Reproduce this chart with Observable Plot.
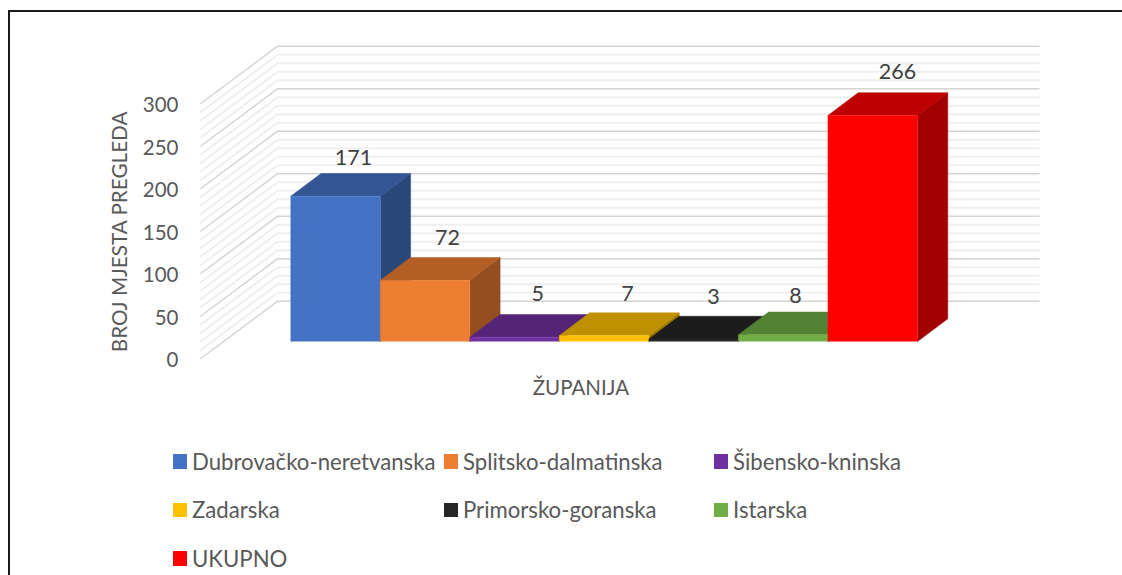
<!DOCTYPE html>
<html><head><meta charset="utf-8">
<script src="https://cdn.jsdelivr.net/npm/d3@7"></script>
<script src="https://cdn.jsdelivr.net/npm/@observablehq/plot@0.6"></script>
<style>
html,body{margin:0;padding:0;background:#fff;width:1122px;height:575px;overflow:hidden;font-family:Lato,"Noto Sans",sans-serif}
#frame{position:absolute;left:8px;top:10px;width:1130px;height:580px;border-left:2px solid #1a1a1a;border-top:2px solid #1a1a1a;box-sizing:border-box;pointer-events:none}
#chart svg{display:block}
#legend{position:absolute;left:173px;top:437px;display:grid;grid-template-columns:271px 270px auto;grid-auto-rows:48.5px;color:#595959;font-size:22.2px}
#legend div{display:flex;align-items:center;white-space:nowrap}
#legend i{display:inline-block;width:14px;height:14.5px;margin-right:5px;flex:none}
</style></head><body>
<div id="chart"></div><div id="legend"></div><div id="frame"></div>
<script>
const categories=["Dubrovačko-neretvanska","Splitsko-dalmatinska","Šibensko-kninska","Zadarska","Primorsko-goranska","Istarska","UKUPNO"];
const values=[171,72,5,7,3,8,266];
const frontColors=["#4472C4","#ED7D31","#7030A0","#FFC000","#262626","#70AD47","#FF0000"];
const topColors=["#335593","#B35E25","#542478","#BF9000","#1C1C1C","#548235","#BF0000"];
const sideColors=["#2A4779","#944E1F","#461E64","#9F7800","#181818","#466D2C","#A00000"];
const yTicks=[0,50,100,150,200,250,300];
const minorTicks=d3.range(0,301,10).filter(v=>v%50!==0);
const labelDx=[18,22.4,23,23.3,19.8,12.2,24.7];
const labelDy=[-38,-42,-43,-41,-41.5,-38.5,-43];

// oblique projection, in data units: depth of a bar and depth of the walls
const barDX=0.338, barDY=26.7;
const wallFrontX=-1.005, wallBackX=-0.147, wallEndX=8.357;
const wallFrontY=-20, wallBackY=47.4;

function face(points,fill){
  return Plot.line(points,{x:"x",y:"y",fill,stroke:fill,strokeWidth:0.5,curve:"linear"});
}
function wallLines(vals,stroke,strokeWidth){
  const pts=vals.flatMap(v=>[
    {v,x:wallFrontX,y:v+wallFrontY},
    {v,x:wallBackX,y:v+wallBackY},
    {v,x:wallEndX,y:v+wallBackY}]);
  return Plot.line(pts,{x:"x",y:"y",z:"v",stroke,strokeWidth,curve:"linear"});
}
const barMarks=values.flatMap((v,i)=>[
  face([{x:i+1,y:0},{x:i+1+barDX,y:barDY},{x:i+1+barDX,y:v+barDY},{x:i+1,y:v}],sideColors[i]),
  face([{x:i,y:v},{x:i+barDX,y:v+barDY},{x:i+1+barDX,y:v+barDY},{x:i+1,y:v}],topColors[i]),
  face([{x:i,y:0},{x:i,y:v},{x:i+1,y:v},{x:i+1,y:0}],frontColors[i])
]);
const labelMarks=values.map((v,i)=>Plot.text([v],{x:[i+0.5],y:[v],text:d=>String(d),dx:labelDx[i],dy:labelDy[i],fontSize:21.5,fill:"#404040"}));

const plot=Plot.plot({
  width:1122,height:437,
  marginLeft:186,marginRight:0,marginTop:0,marginBottom:0,
  x:{domain:[0,7],range:[290.3,917],axis:null},
  y:{domain:[0,300],range:[341,86]},
  style:{fontFamily:"Lato, 'Noto Sans', sans-serif",background:"transparent",color:"#595959"},
  marks:[
    wallLines(minorTicks,"#efefef",2),
    wallLines(yTicks,"#d4d4d4",1.5),
    ...barMarks,
    ...labelMarks,
    Plot.axisY(yTicks,{anchor:"left",tickSize:0,tickPadding:8,dy:19,fontSize:20.5,fill:"#595959",label:null,tickFormat:d=>String(d)}),
    Plot.text(["BROJ MJESTA PREGLEDA"],{x:[-1.9],y:[129],text:d=>d,rotate:-90,fontSize:20.7,fill:"#595959"}),
    Plot.text(["ŽUPANIJA"],{x:[3.24],y:[-55],text:d=>d,fontSize:20.5,fill:"#595959"})
  ]
});
document.getElementById("chart").append(plot);
const lg=document.getElementById("legend");
categories.forEach((c,i)=>{
  const d=document.createElement("div");
  const s=document.createElement("i");s.style.background=frontColors[i];
  d.append(s,document.createTextNode(c));lg.append(d);
});
</script></body></html>
